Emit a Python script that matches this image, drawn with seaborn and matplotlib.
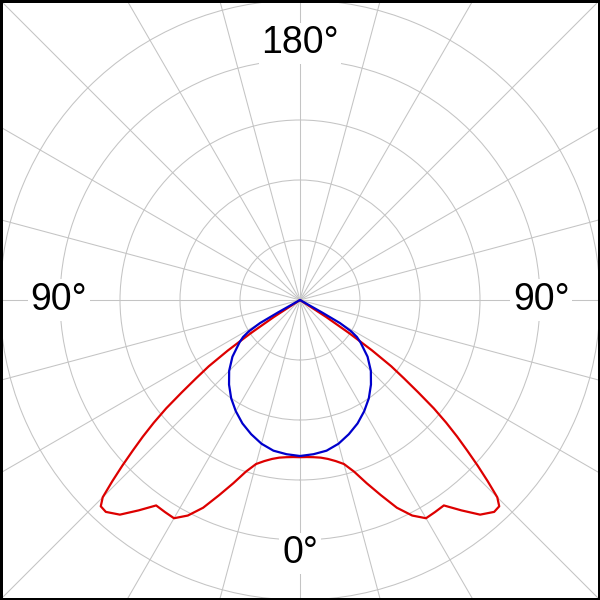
import numpy as np
import pandas as pd
import matplotlib
matplotlib.use("Agg")
import matplotlib.pyplot as plt
import seaborn as sns
from matplotlib.patches import Rectangle

# light distribution, half curve (symmetric), angle from nadir in degrees
red_angles = [0, 2.5, 5, 7.5, 10, 12.5, 15, 17.5, 20, 22.5, 25, 27.5, 30, 32.5,
              35, 37.5, 40, 42.5, 44, 45, 46, 47, 48, 49, 50, 51, 52, 53, 54,
              55, 56, 57, 58]
red_values = [262, 262, 263, 265, 269, 275, 283, 300, 325, 352, 382, 405, 420, 419,
              418, 442, 467, 479, 478, 465, 435, 405, 375, 347, 318, 287, 250, 217,
              188, 147, 100, 52, 0]

blue_angles = [0, 5, 10, 15, 20, 25, 30, 35, 40, 45, 50, 55, 57, 58.5, 60, 60.5, 61]
blue_values = [260, 258, 255, 248, 238, 227, 214, 200, 184, 167, 147, 123, 113, 100,
               77, 42, 0]

ring_values = [100, 200, 300, 400, 500]
angle_labels = ["180°", "90°", "90°", "0°"]
label_angles = [180, 90, -90, 0]
label_radius = [428, 402, 402, 422]


def mirror(angles, values, name):
    a = np.array(angles, dtype=float)
    v = np.array(values, dtype=float)
    th = np.concatenate([-a[::-1], a[1:]])
    r = np.concatenate([v[::-1], v[1:]])
    return pd.DataFrame({"theta": np.deg2rad(th), "r": r, "series": name})


df = pd.concat([mirror(red_angles, red_values, "C0"),
                mirror(blue_angles, blue_values, "C90")], ignore_index=True)

sns.set_style("white")
plt.rcParams["font.family"] = ["Liberation Sans", "DejaVu Sans"]

fig = plt.figure(figsize=(6, 6), dpi=100)
s = (np.sqrt(2) - 1) / 2
ax = fig.add_axes([-s, -s, 1 + 2 * s, 1 + 2 * s], projection="polar")
ax.set_theta_zero_location("S")
ax.set_ylim(0, 500 * np.sqrt(2))
ax.set_thetagrids(np.arange(0, 360, 15), labels=[])
ax.set_rgrids(ring_values, labels=[])
ax.grid(True, color="#c4c4c4", linewidth=0.75)
ax.spines["polar"].set_visible(False)

sns.lineplot(data=df, x="theta", y="r", hue="series",
             palette={"C0": "#dd0000", "C90": "#0000cc"},
             linewidth=1.6, sort=False, estimator=None, legend=False, ax=ax)
ax.set_xlabel("")
ax.set_ylabel("")

for lab, ang, rr in zip(angle_labels, label_angles, label_radius):
    ax.text(np.deg2rad(ang), rr, lab, ha="center", va="center", fontsize=27,
            color="black", bbox=dict(facecolor="white", edgecolor="none", pad=2))

fig.patches.append(Rectangle((0, 0), 1, 1, transform=fig.transFigure,
                             fill=False, edgecolor="black", linewidth=3.6))

fig.savefig("out.png", dpi=100)
